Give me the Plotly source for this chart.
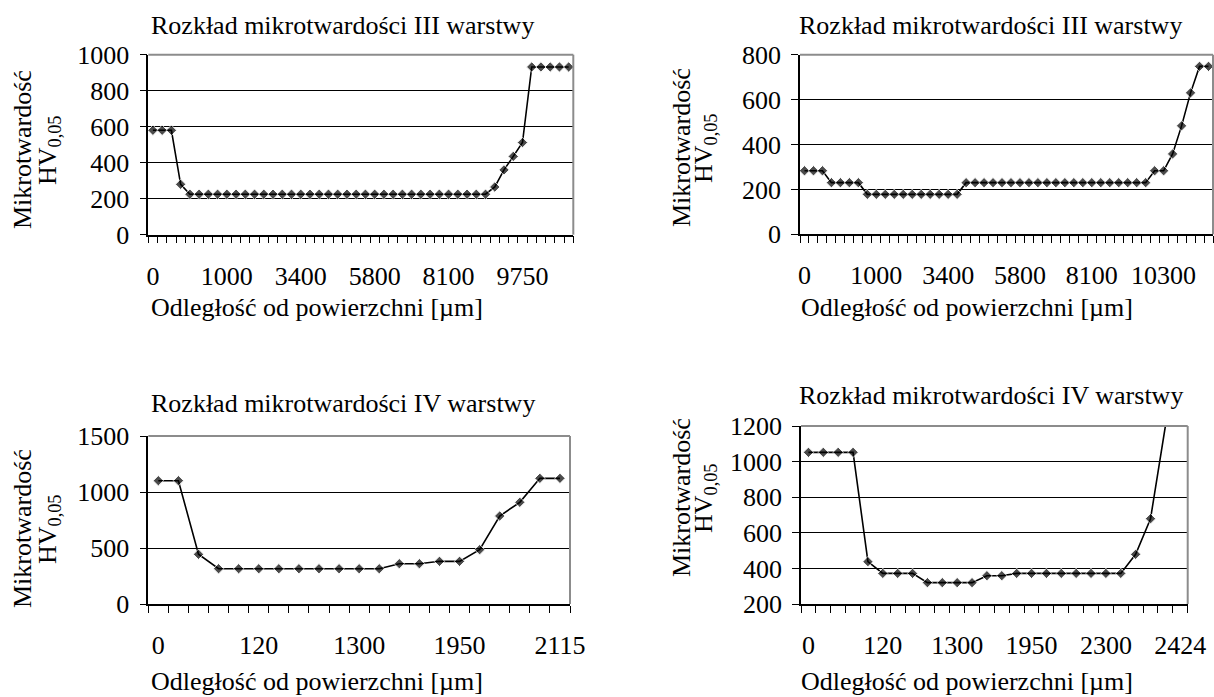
import plotly.graph_objects as go

W, H = 1214, 697
FONT = "Liberation Serif"
FS = 26

# ---------------- data ----------------
title_III = "Rozkład mikrotwardości III warstwy"
title_IV = "Rozkład mikrotwardości IV warstwy"
x_title = "Odległość od powierzchni [µm]"

# panel 1 (III warstwa, left)
hv_1 = [580, 580, 580, 280,
        225, 225, 225, 225, 225, 225, 225, 225, 225, 225, 225,
        225, 225, 225, 225, 225, 225, 225, 225, 225, 225, 225,
        225, 225, 225, 225, 225, 225, 225, 225, 225, 225, 225,
        265, 360, 435, 512,
        932, 932, 932, 932, 932]
labels_1 = ["0", "1000", "3400", "5800", "8100", "9750"]
label_pos_1 = [0, 8, 16, 24, 32, 40]

# panel 2 (III warstwa, right)
hv_2 = [283, 283, 283, 230, 230, 230, 230,
        178, 178, 178, 178, 178, 178, 178, 178, 178, 178, 178,
        230, 230, 230, 230, 230, 230, 230, 230, 230, 230, 230,
        230, 230, 230, 230, 230, 230, 230, 230, 230, 230,
        283, 283, 358, 483, 630, 748, 748]
labels_2 = ["0", "1000", "3400", "5800", "8100", "10300"]
label_pos_2 = [0, 8, 16, 24, 32, 40]

# panel 3 (IV warstwa, left)
hv_3 = [1101, 1101, 444, 315, 315, 315, 315, 315, 315, 315, 315, 315,
        360, 360, 381, 381, 485, 786, 908, 1122, 1122]
labels_3 = ["0", "120", "1300", "1950", "2115"]
label_pos_3 = [0, 5, 10, 15, 20]

# panel 4 (IV warstwa, right) - last two points are off the top of the scale
hv_4 = [1052, 1052, 1052, 1052, 438, 372, 372, 372, 320, 320, 320, 320,
        359, 359, 372, 372, 372, 372, 372, 372, 372, 372, 479, 679, 1200, 1200]
labels_4 = ["0", "120", "1300", "1950", "2300", "2424"]
label_pos_4 = [0, 5, 10, 15, 20, 25]

# ---------------- layout (pixel boxes) ----------------
panels = [
    dict(y=hv_1, labels=labels_1, lpos=label_pos_1, box=(148.3, 573.3, 54.7, 234.7),
         yr=(0, 1000), dt=200, title=title_III, tx=149, ty=25, xt=(149, 307), yt=(22, 49, 150)),
    dict(y=hv_2, labels=labels_2, lpos=label_pos_2, box=(800, 1213, 54.7, 234.3),
         yr=(0, 800), dt=200, title=title_III, tx=797, ty=25, xt=(799, 307), yt=(681, 705, 148)),
    dict(y=hv_3, labels=labels_3, lpos=label_pos_3, box=(148.3, 570, 436, 604),
         yr=(0, 1500), dt=500, title=title_IV, tx=149, ty=403, xt=(149, 681), yt=(22, 49, 529)),
    dict(y=hv_4, labels=labels_4, lpos=label_pos_4, box=(801, 1187.7, 426, 604),
         yr=(200, 1200), dt=200, title=title_IV, tx=797, ty=395, xt=(799, 681), yt=(681, 705, 498)),
]

fig = go.Figure()
annotations = []
shapes = []
layout_axes = {}

def px(x):
    return x / W

def py(y):
    return 1 - y / H

for i, p in enumerate(panels, start=1):
    xa = "x" if i == 1 else f"x{i}"
    ya = "y" if i == 1 else f"y{i}"
    n = len(p["y"])
    idx = list(range(n))
    sizes = [8 if v < p["yr"][1] else 0 for v in p["y"]]
    fig.add_trace(go.Scatter(
        x=idx, y=p["y"], xaxis=xa, yaxis=ya, mode="lines+markers",
        line=dict(color="black", width=1.6),
        marker=dict(symbol="diamond", size=sizes, color="black"),
        cliponaxis=False, showlegend=False,
        hovertemplate="%{y}<extra></extra>",
    ))
    x0, x1, y0, y1 = p["box"]
    layout_axes[f"xaxis{'' if i == 1 else i}"] = dict(
        domain=[px(x0), px(x1)], anchor=ya, range=[-0.5, n - 0.5], automargin=False,
        tickmode="array", tickvals=p["lpos"], ticktext=p["labels"],
        ticks="", ticklabelstandoff=17,
        showline=True, linecolor="black", linewidth=1.5,
        showgrid=False, zeroline=False, fixedrange=True,
        tickfont=dict(family=FONT, size=FS, color="black"),
        minor=dict(ticks="outside", ticklen=7, tickcolor="black", tickwidth=1.3,
                   tick0=-0.5, dtick=1, showgrid=False),
    )
    layout_axes[f"yaxis{'' if i == 1 else i}"] = dict(
        domain=[py(y1), py(y0)], anchor=xa, range=list(p["yr"]), automargin=False,
        tickmode="linear", tick0=p["yr"][0], dtick=p["dt"],
        ticks="outside", ticklen=7, tickcolor="black", tickwidth=1.3,
        ticklabelstandoff=5,
        showline=True, linecolor="black", linewidth=1.5,
        showgrid=True, gridcolor="black", gridwidth=1.2, zeroline=False,
        fixedrange=True,
        tickfont=dict(family=FONT, size=FS, color="black"),
    )
    # grey top / right frame of plot area
    shapes.append(dict(type="line", xref=f"{xa} domain", yref=f"{ya} domain",
                       x0=0, x1=1, y0=1, y1=1, line=dict(color="#8c8c8c", width=2), layer="above"))
    shapes.append(dict(type="line", xref=f"{xa} domain", yref=f"{ya} domain",
                       x0=1, x1=1, y0=0, y1=1, line=dict(color="#8c8c8c", width=2), layer="above"))
    # chart title
    annotations.append(dict(text=p["title"], x=px(p["tx"]), y=py(p["ty"]), xref="paper", yref="paper",
                            xanchor="left", yanchor="middle", showarrow=False,
                            font=dict(family=FONT, size=FS, color="black")))
    # x axis title
    annotations.append(dict(text=x_title, x=px(p["xt"][0]), y=py(p["xt"][1]), xref="paper", yref="paper",
                            xanchor="left", yanchor="middle", showarrow=False,
                            font=dict(family=FONT, size=FS, color="black")))
    # y axis title (two lines)
    annotations.append(dict(text="Mikrotwardość", x=px(p["yt"][0]), y=py(p["yt"][2]),
                            xref="paper", yref="paper", xanchor="center", yanchor="middle",
                            textangle=-90, showarrow=False,
                            font=dict(family=FONT, size=FS, color="black")))
    annotations.append(dict(text="HV<sub>0,05</sub>", x=px(p["yt"][1]), y=py(p["yt"][2]),
                            xref="paper", yref="paper", xanchor="center", yanchor="middle",
                            textangle=-90, showarrow=False,
                            font=dict(family=FONT, size=FS, color="black")))

fig.update_layout(
    width=W, height=H, margin=dict(l=0, r=0, t=0, b=0, autoexpand=False),
    paper_bgcolor="white", plot_bgcolor="white",
    annotations=annotations, shapes=shapes, **layout_axes,
)

fig.write_html("out.html", config={"displayModeBar": False},
               post_script="document.body.style.margin='0px';document.body.style.overflow='hidden';")
